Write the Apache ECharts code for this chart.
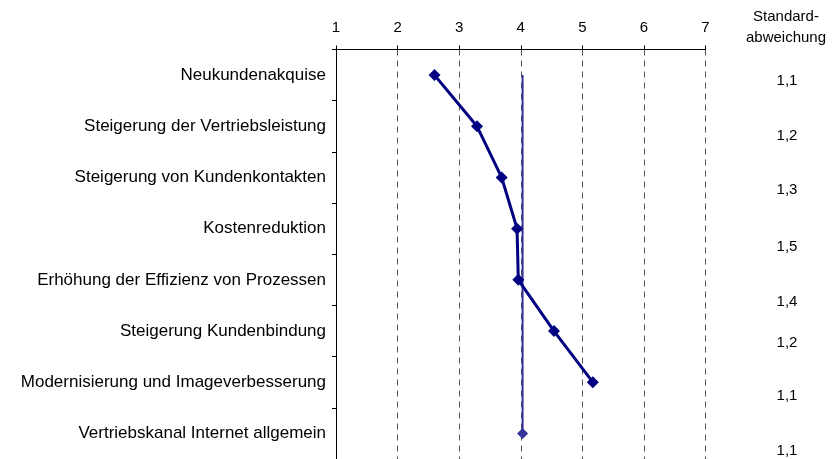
<!DOCTYPE html>
<html><head><meta charset="utf-8">
<script src="https://cdn.jsdelivr.net/npm/echarts@6/dist/echarts.min.js"></script>
<style>html,body{margin:0;padding:0;background:#fff}#c{width:833px;height:459px}</style>
</head><body><div id="c"></div>
<script>
var categories = ['Neukundenakquise','Steigerung der Vertriebsleistung','Steigerung von Kundenkontakten','Kostenreduktion','Erhöhung der Effizienz von Prozessen','Steigerung Kundenbindung','Modernisierung und Imageverbesserung','Vertriebskanal Internet allgemein'];
var meanValues = [2.6, 3.29, 3.69, 3.94, 3.96, 4.54, 5.17, null];
var overallValue = [4.03, 4.03, 4.03, 4.03, 4.03, 4.03, 4.03, 4.03];
var stdDev = ['1,1','1,2','1,3','1,5','1,4','1,2','1,1','1,1'];
var stdHeader = ['Standard-', 'abweichung'];

var stdY = [81, 136, 190, 247, 302, 343, 396, 451];
var FONT = 'Liberation Sans, Arial, sans-serif';
var chart = echarts.init(document.getElementById('c'));
var graphics = [];
stdDev.forEach(function(s, i){
  graphics.push({type:'text', x:787, y:stdY[i], style:{text:s, font:'15px '+FONT, fill:'#000', align:'center', verticalAlign:'middle'}});
});
graphics.push({type:'text', x:786, y:17, style:{text:stdHeader[0], font:'15px '+FONT, fill:'#000', align:'center', verticalAlign:'middle'}});
graphics.push({type:'text', x:786, y:38, style:{text:stdHeader[1], font:'15px '+FONT, fill:'#000', align:'center', verticalAlign:'middle'}});

chart.setOption({
  animation:false,
  grid:{left:336, right:127.5, top:49.5, bottom:-5},
  xAxis:{type:'value', position:'top', min:1, max:7, interval:1,
    axisLine:{show:true, lineStyle:{color:'#000', width:1}},
    axisTick:{show:true, length:4, lineStyle:{color:'#000'}},
    axisLabel:{color:'#000', fontSize:15, fontFamily:FONT, margin:14},
    splitLine:{show:true, lineStyle:{color:'#555', type:[6,5], width:1}}},
  yAxis:{type:'category', inverse:true, data:categories,
    axisLine:{show:true, lineStyle:{color:'#000'}},
    axisTick:{show:true, length:4, lineStyle:{color:'#000'}},
    axisLabel:{color:'#000', fontSize:17, fontFamily:FONT, margin:10}},
  graphic:graphics,
  series:[
    {type:'line', data:overallValue, lineStyle:{color:'#333399', width:2}, itemStyle:{color:'#333399'},
     symbol:function(v,p){return p.dataIndex===7?'diamond':'none';}, symbolSize:11, showAllSymbol:true, z:2},
    {type:'line', data:meanValues, lineStyle:{color:'#000080', width:3}, itemStyle:{color:'#000080'},
     symbol:'diamond', symbolSize:12, showAllSymbol:true, z:3}
  ]
});
</script></body></html>
